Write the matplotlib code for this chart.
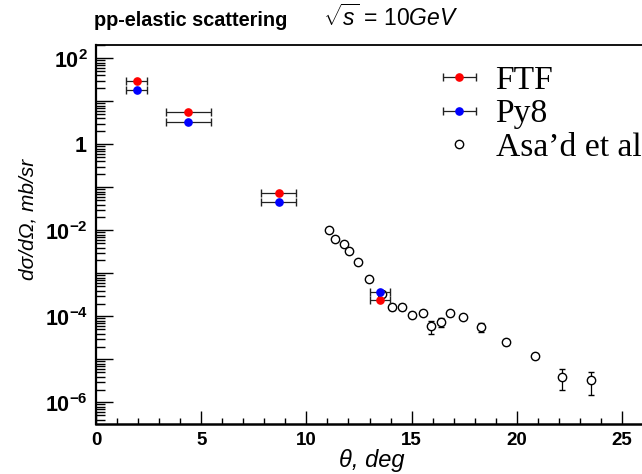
import numpy as np
import matplotlib
matplotlib.use('Agg')
from matplotlib import pyplot as plt
from matplotlib.lines import Line2D
from matplotlib.ticker import MultipleLocator, LogLocator, NullFormatter

plt.rcParams['mathtext.fontset'] = 'custom'
plt.rcParams['mathtext.rm'] = 'Liberation Sans'
plt.rcParams['mathtext.it'] = 'Liberation Sans:italic'
plt.rcParams['mathtext.bf'] = 'Liberation Sans:bold'

# model predictions (theta, half bin width, dsigma/dOmega)
ftf_theta = [1.93, 4.39, 8.68, 13.5]
ftf_xerr = [0.5, 1.08, 0.83, 0.48]
ftf_val = [30.0, 5.7, 0.0745, 2.35e-4]

py8_theta = [1.93, 4.39, 8.68, 13.5]
py8_xerr = [0.5, 1.08, 0.83, 0.48]
py8_val = [18.5, 3.33, 0.046, 3.8e-4]

# Asa'd et al data
exp_theta = [11.09, 11.37, 11.79, 12.04, 12.47, 12.97, 13.58, 14.07, 14.54, 15.02,
             15.53, 15.91, 16.38, 16.81, 17.46, 18.31, 19.47, 20.88, 22.15, 23.53]
exp_val = [1.04e-2, 6.4e-3, 4.8e-3, 3.4e-3, 1.84e-3, 7.4e-4, 3.3e-4, 1.66e-4, 1.68e-4, 1.1e-4,
           1.2e-4, 5.85e-5, 7.4e-5, 1.2e-4, 9.7e-5, 5.7e-5, 2.5e-5, 1.2e-5, 3.9e-6, 3.3e-6]
exp_err = [4e-4, 3e-4, 2e-4, 1.5e-4, 8e-5, 3e-5, 1.5e-5, 2.5e-5, 2.5e-5, 1.5e-5,
           1.2e-5, 2.0e-5, 1.7e-5, 1.5e-5, 1.2e-5, 1.3e-5, 3e-6, 1.3e-6, 2.0e-6, 1.8e-6]

ytick_pos = [1e2, 1e1, 1e0, 1e-1, 1e-2, 1e-3, 1e-4, 1e-5, 1e-6]
ytick_lab = [r'$\mathbf{10^{2}}$', '', r'$\mathbf{1}$', '', r'$\mathbf{10^{-2}}$', '',
             r'$\mathbf{10^{-4}}$', '', r'$\mathbf{10^{-6}}$']

fig = plt.figure(figsize=(6.42, 4.74), dpi=100)
# right part of the frame runs past the picture edge, as in the original
ax = fig.add_axes([96/642, 1-424/474, 28*21.04/642, (424-45)/474])

ax.errorbar(exp_theta, exp_val, yerr=exp_err, fmt='o', ms=6, mfc='white', mec='black',
            mew=1.0, ecolor='black', elinewidth=0.9, capsize=2.5, zorder=2)
ftf = ax.errorbar(ftf_theta, ftf_val, xerr=ftf_xerr, fmt='o', ms=5.2, color='red',
                  ecolor='#222222', elinewidth=0.9, capsize=3.2, zorder=3)
py8 = ax.errorbar(py8_theta, py8_val, xerr=py8_xerr, fmt='o', ms=5.2, color='blue',
                  ecolor='#222222', elinewidth=0.9, capsize=3.2, zorder=3)

ax.set_yscale('log')
ax.set_xlim(0, 28)
ax.set_ylim(10**-6.5, 10**2.31)

ax.xaxis.set_major_locator(MultipleLocator(5))
ax.xaxis.set_minor_locator(MultipleLocator(1))
ax.set_yticks(ytick_pos)
ax.set_yticklabels(ytick_lab)
ax.yaxis.set_minor_locator(LogLocator(base=10, subs=np.arange(2, 10), numticks=100))
ax.yaxis.set_minor_formatter(NullFormatter())

ax.tick_params(axis='x', which='major', direction='in', length=9.5, width=1, pad=6,
               labelsize=13.5, top=False)
ax.tick_params(axis='x', which='minor', direction='in', length=4, width=1, top=False)
ax.tick_params(axis='y', which='major', direction='in', length=12, width=1, pad=6,
               labelsize=15.5, right=False)
ax.tick_params(axis='y', which='minor', direction='in', length=6.5, width=1, right=False)
for lab in ax.get_xticklabels():
    lab.set_fontfamily('Liberation Sans')
    lab.set_fontweight('bold')

ax.spines['left'].set_linewidth(1.6)
ax.spines['bottom'].set_linewidth(1.8)
ax.spines['top'].set_linewidth(1.3)

asad = Line2D([], [], ls='none', marker='o', ms=6, mfc='white', mec='black', mew=1.0)
ax.legend([ftf, py8, asad], ['FTF', 'Py8', 'Asa\u2019d et al'], loc='center left',
          bbox_to_anchor=(432/642, 1-114/474), bbox_transform=fig.transFigure,
          frameon=False, prop={'family': 'Liberation Serif', 'size': 24.2},
          handlelength=1.63, handletextpad=0.26, labelspacing=0.09, borderpad=0,
          borderaxespad=0)

fig.text(94/642, 1-26/474, 'pp-elastic scattering', fontsize=14.3, fontweight='bold',
         family='Liberation Sans', va='baseline', ha='left')
fig.text(323/642, 1-26/474, r'$\sqrt{s}$ = 10$\mathit{GeV}$', fontsize=16.5,
         family='Liberation Sans', va='baseline', ha='left')
fig.text(28.5/642, 1-219/474, 'd\u03c3/d\u03a9, mb/sr', rotation=90, fontsize=15,
         fontstyle='italic', family='Liberation Sans', ha='center', va='center')
fig.text(372/642, 1-461/474, '\u03b8, deg', fontsize=17, fontstyle='italic',
         family='Liberation Sans', ha='center', va='center')

fig.savefig('out.png', dpi=100)
